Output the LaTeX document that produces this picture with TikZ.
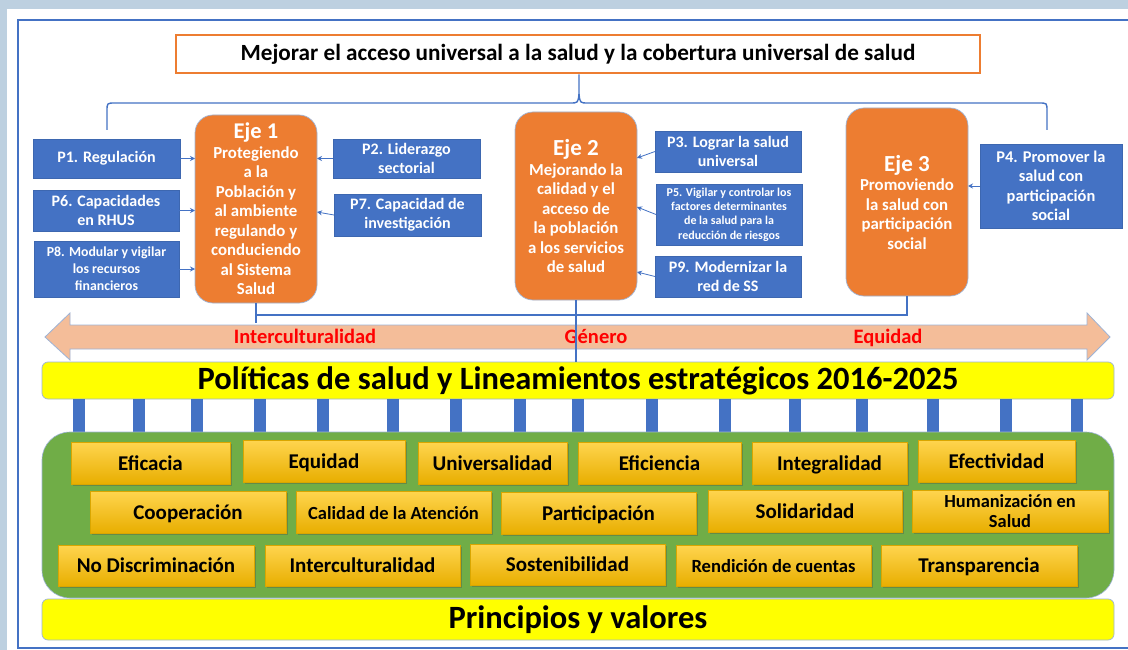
\documentclass[tikz,border=0pt]{standalone}
\usepackage{fontspec}
\setmainfont{Carlito}
\usetikzlibrary{shadows,calc,arrows.meta}
\definecolor{bgc}{HTML}{BDD0E0}
\definecolor{bluec}{HTML}{4472C4}
\definecolor{orangec}{HTML}{ED7D31}
\definecolor{salmonc}{HTML}{F4BD99}
\definecolor{yellowc}{HTML}{FFFF00}
\definecolor{greenc}{HTML}{70AD47}
\definecolor{goldtop}{HTML}{FFD54F}
\definecolor{goldmid}{HTML}{FFC300}
\definecolor{goldbot}{HTML}{E8AE00}
\definecolor{goldedge}{HTML}{D9A600}
\definecolor{edgec}{HTML}{9DB3D6}
\definecolor{redc}{HTML}{FF0000}
\newcommand\mkbox[7]{\node[#6, minimum width={#4-#2}, minimum height={#5-#3}] (#1) at ({(#2+#4)/2},{(#3+#5)/2}) {#7};}
\tikzset{
  pbox/.style={fill=bluec, draw=bluec!90!black, line width=0.4pt, text=white, align=center, inner sep=0pt, outer sep=0pt, font=\bfseries\fontsize{16}{19}\selectfont},
  ejebox/.style={fill=orangec, draw=edgec, line width=0.7pt, rounded corners=18pt, text=white, align=center, inner sep=0pt, outer sep=0pt, font=\bfseries\fontsize{16.8}{19.5}\selectfont},
  goldbase/.style={top color=goldtop, middle color=goldmid, bottom color=goldbot, draw=goldedge, line width=0.4pt, align=center, inner sep=0pt, outer sep=0pt,
     drop shadow={shadow xshift=2pt, shadow yshift=-2pt, opacity=0.35, fill=black!70},
     font=\bfseries\fontsize{21}{23}\selectfont},
  goldbox/.style={goldbase, text height=16pt, text depth=2pt},
  ybar/.style={fill=yellowc, draw=edgec, line width=0.7pt, rounded corners=6pt, inner sep=0pt, outer sep=0pt},
  link/.style={-{Stealth[length=5pt,width=5pt]}, draw=bluec, line width=0.8pt},
  wire/.style={draw=bluec, line width=1.4pt},
  redlbl/.style={text=redc, font=\bfseries\fontsize{20.5}{22}\selectfont, inner sep=0pt, text height=15.5pt, text depth=2pt},
  pillar/.style={fill=bluec, draw=none, minimum width=12pt, minimum height=33pt, inner sep=0pt, outer sep=0pt}
}
\begin{document}
\begin{tikzpicture}[x=1pt,y=-1pt]
\useasboundingbox (0,0) rectangle (1128,650);
\fill[bgc] (0,0) rectangle (1128,650);
\fill[white] (7,9) rectangle (1128,650);
\draw[bluec, line width=1.6pt] (18,20) rectangle (1140,648);

% title
\mkbox{title}{176}{35}{980}{73}{draw=orangec, line width=2.6pt, fill=white, inner sep=0pt, font=\bfseries\fontsize{23.2}{25}\selectfont}{Mejorar el acceso universal a la salud y la cobertura universal de salud}

% brace
\coordinate (bl) at (107,130);
\coordinate (br) at (1047,130);
\draw[wire] (bl) -- (107,111) .. controls (107,103) .. (115,103) -- (570,103) .. controls (578,103) .. (579,94) -- (title.south -| 579,0);
\draw[wire] (579,94) .. controls (580,103) .. (588,103) -- (1039,103) .. controls (1047,103) .. (1047,111) -- (br);

% Eje boxes
\mkbox{e1}{195}{115}{317}{303}{ejebox}{{\fontsize{22.5}{22}\selectfont Eje 1}\\Protegiendo\\a la\\Población y\\al ambiente\\regulando y\\conduciendo\\al Sistema\\Salud}
\mkbox{e2}{515}{112}{637}{300}{ejebox}{{\fontsize{23}{22}\selectfont Eje 2}\\Mejorando la\\calidad y el\\acceso de\\la población\\a los servicios\\de salud}
\mkbox{e3}{846}{108}{968}{296}{ejebox}{{\fontsize{23}{25}\selectfont Eje 3}\\Promoviendo\\la salud con\\participación\\social}

% P boxes
\mkbox{p1}{33}{139}{180}{178}{pbox}{P1. Regulación}
\mkbox{p6}{33}{190}{179}{231}{pbox}{P6. Capacidades\\en RHUS}
\mkbox{p8}{34}{241}{179}{297}{pbox, font=\bfseries\fontsize{13.8}{17}\selectfont}{P8. Modular y vigilar\\los recursos\\financieros}
\mkbox{p2}{333}{139}{480}{178}{pbox}{P2. Liderazgo\\sectorial}
\mkbox{p7}{334}{194}{481}{236}{pbox}{P7. Capacidad de\\investigación}
\mkbox{p3}{655}{131}{801}{172}{pbox}{P3. Lograr la salud\\universal}
\mkbox{p5}{656}{184}{802}{245}{pbox, font=\bfseries\fontsize{12}{14.3}\selectfont}{P5. Vigilar y controlar los\\factores determinantes\\de la salud para la\\reducción de riesgos}
\mkbox{p9}{655}{256}{801}{297}{pbox}{P9. Modernizar la\\red de SS}
\mkbox{p4}{980}{144}{1122}{228}{pbox, font=\bfseries\fontsize{16.4}{19.5}\selectfont}{P4. Promover la\\salud con\\participación\\social}

% arrows P -> Eje
\draw[link] (p1.east) -- (p1.east -| e1.west);
\draw[link] (p6.east) -- (p6.east -| e1.west);
\draw[link] (p8.east) -- (p8.east -| e1.west);
\draw[link] (p2.west) -- (p2.west -| e1.east);
\draw[link] (p7.west) -- ($(p7.west -| e1.east)+(0,-3)$);
\draw[link] (p3.west) -- ($(e2.east)+(0,-48)$);
\draw[link] (p5.west) -- ($(e2.east)+(0,1)$);
\draw[link] (p9.west) -- ($(e2.east)+(0,66)$);
\draw[link] (p4.west) -- (p4.west -| e3.east);

% big double arrow
\fill[salmonc, draw=edgec, line width=0.8pt] (45,337) -- (70,313) -- (70,325) -- (1087,325) -- (1087,313) -- (1110,337) -- (1087,360) -- (1087,349) -- (70,349) -- (70,360) -- cycle;
\node[redlbl] (l1) at (305,337) {Interculturalidad};
\node[redlbl] (l2) at (596,337) {Género};
\node[redlbl] (l3) at (888,337) {Equidad};

% connectors under Eje boxes
\coordinate (h) at (0,315);
\draw[wire] (e1.south) -- (e1.south |- 0,323);
\draw[wire] (e1.south |- h) -- (e3.south |- h) -- (e3.south);

% yellow bar 1
\mkbox{pol}{42}{362}{1114}{399}{ybar, font=\bfseries\fontsize{32.5}{34}\selectfont}{Políticas de salud y Lineamientos estratégicos 2016-2025}
\draw[wire] (e2.south) -- (e2.south |- pol.north);

% pillars
\foreach \px [count=\i] in {79,139,197,260,323,393,456,520,578,652,725,795,862,933,1006,1077}
  \node[pillar] (pil\i) at (\px,415.5) {};

% green panel
\node[fill=greenc, draw=edgec, line width=0.6pt, rounded corners=28pt, minimum width=1072pt, minimum height=166pt, inner sep=0pt] (green) at (578,515) {};

% gold boxes row 1
\mkbox{g1}{71}{442}{230}{484}{goldbox}{Eficacia}
\mkbox{g2}{243}{440}{405}{482}{goldbox}{Equidad}
\mkbox{g3}{418}{442}{567}{484}{goldbox}{Universalidad}
\mkbox{g4}{578}{442}{741}{484}{goldbox}{Eficiencia}
\mkbox{g5}{752}{442}{907}{484}{goldbox}{Integralidad}
\mkbox{g6}{918}{440}{1075}{482}{goldbox}{Efectividad}
% row 2
\mkbox{g7}{90}{491}{286}{533}{goldbox}{Cooperación}
\mkbox{g8}{296}{491}{491}{533}{goldbox, font=\bfseries\fontsize{18.5}{20}\selectfont}{Calidad de la Atención}
\mkbox{g9}{501}{492}{696}{534}{goldbox}{Participación}
\mkbox{g10}{708}{490}{902}{532}{goldbox}{Solidaridad}
\mkbox{g11}{912}{490}{1108}{532}{goldbase, font=\bfseries\fontsize{18.4}{20}\selectfont}{Humanización en\\Salud}
% row 3
\mkbox{g12}{58}{545}{254}{586}{goldbox}{No Discriminación}
\mkbox{g13}{265}{545}{460}{586}{goldbox}{Interculturalidad}
\mkbox{g14}{470}{544}{665}{585}{goldbox}{Sostenibilidad}
\mkbox{g15}{676}{545}{871}{586}{goldbox, font=\bfseries\fontsize{18.6}{20}\selectfont}{Rendición de cuentas}
\mkbox{g16}{881}{545}{1077}{586}{goldbox}{Transparencia}

% yellow bar 2
\mkbox{pv}{42}{599}{1114}{640}{ybar, font=\bfseries\fontsize{32.5}{34}\selectfont}{Principios y valores}
\end{tikzpicture}
\end{document}
